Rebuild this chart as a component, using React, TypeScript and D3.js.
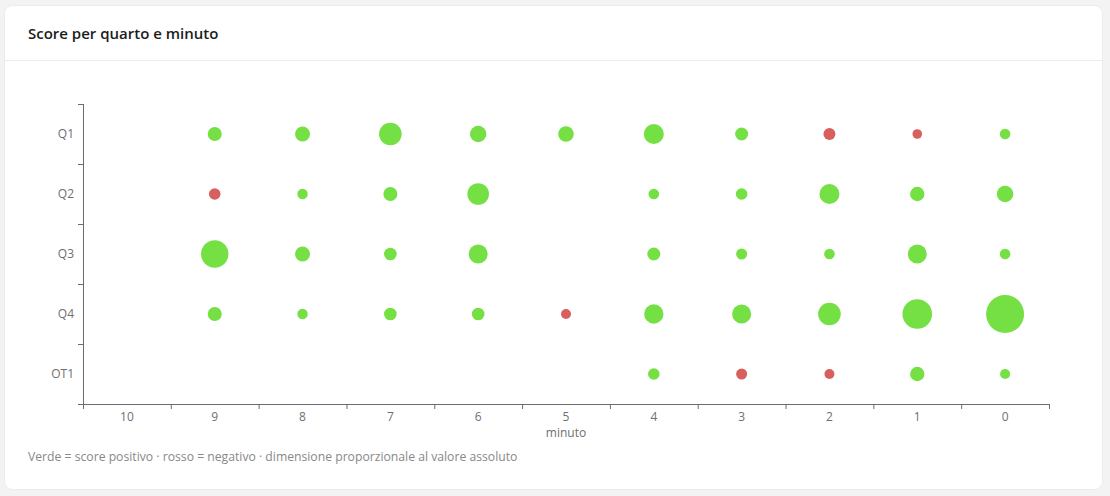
import React from "react";
import * as d3 from "d3";

// minuti rimanenti nel quarto (da 10 a 0)
const MINUTES = [10, 9, 8, 7, 6, 5, 4, 3, 2, 1, 0];
const QUARTERS = ["Q1", "Q2", "Q3", "Q4", "OT1"];

// score per minuto, stesso ordine di MINUTES (null = nessun dato)
const Q1_SCORES = [null, 3, 3.5, 7.3, 4.2, 3.8, 6, 2.5, -2, -0.8, 1.3];
const Q2_SCORES = [null, -1.8, 1.2, 3, 6.8, null, 1.3, 1.8, 6, 3.2, 4.3];
const Q3_SCORES = [null, 9.7, 3.5, 2.3, 5.5, null, 2.5, 1.5, 1.3, 5.5, 1.3];
const Q4_SCORES = [null, 3, 1.2, 2.3, 2.3, -1, 5.7, 5.5, 7.3, 10.8, 15];
const OT1_SCORES = [null, null, null, null, null, null, 1.8, -1.5, -1, 3.2, 1];

const SCORES: Record<string, (number | null)[]> = {
  Q1: Q1_SCORES,
  Q2: Q2_SCORES,
  Q3: Q3_SCORES,
  Q4: Q4_SCORES,
  OT1: OT1_SCORES,
};

const W = 1110;
const H = 496;
const FONT = "'Open Sans', 'Noto Sans', sans-serif";
const AXIS_COLOR = "#6b6b72";
const LABEL_COLOR = "#6f6f6f";

const App: React.FC = () => {
  const margin = { top: 104, right: 61, bottom: 92, left: 83 };

  const x = d3
    .scaleBand<number>()
    .domain(MINUTES)
    .range([margin.left, W - margin.right]);

  const y = d3
    .scaleBand<string>()
    .domain(QUARTERS)
    .range([margin.top, H - margin.bottom]);

  const maxAbs = d3.max(
    QUARTERS.flatMap((q) => SCORES[q].map((v) => (v == null ? 0 : Math.abs(v))))
  ) as number;
  const r = d3.scaleLinear().domain([0, maxAbs]).range([4, 19]);

  const xTicks = [...MINUTES.map((m) => x(m) as number), x.range()[1]];
  const yTicks = [...QUARTERS.map((q) => y(q) as number), y.range()[1]];
  const x0 = x.range()[0];
  const x1 = x.range()[1];
  const yBottom = y.range()[1];

  const points = QUARTERS.flatMap((q) =>
    SCORES[q]
      .map((v, i) => ({ q, m: MINUTES[i], v }))
      .filter((d) => d.v != null)
  ) as { q: string; m: number; v: number }[];

  return (
    <div
      style={{
        position: "fixed",
        inset: 0,
        background: "#f3f3f3",
      }}
    >
      <svg width={W} height={H} style={{ display: "block" }} fontFamily={FONT}>
        {/* card */}
        <rect
          x={4.5}
          y={5.5}
          width={1098}
          height={484}
          rx={8}
          fill="#ffffff"
          stroke="#ebebeb"
        />
        <line x1={5} x2={1102} y1={60.5} y2={60.5} stroke="#ececec" />
        <text x={28} y={39} fontSize={15} fontWeight={600} fill="#1c1c1c">
          Score per quarto e minuto
        </text>

        {/* asse y */}
        <line
          x1={x0 + 0.5}
          x2={x0 + 0.5}
          y1={yTicks[0]}
          y2={yBottom}
          stroke={AXIS_COLOR}
        />
        {yTicks.map((t, i) => (
          <line
            key={"yt" + i}
            x1={x0 - 5}
            x2={x0}
            y1={t + 0.5}
            y2={t + 0.5}
            stroke={AXIS_COLOR}
          />
        ))}
        {QUARTERS.map((q) => (
          <text
            key={q}
            x={x0 - 9}
            y={(y(q) as number) + y.bandwidth() / 2}
            dy="0.35em"
            textAnchor="end"
            fontSize={12}
            fill={LABEL_COLOR}
          >
            {q}
          </text>
        ))}

        {/* asse x */}
        <line
          x1={x0}
          x2={x1}
          y1={yBottom + 0.5}
          y2={yBottom + 0.5}
          stroke={AXIS_COLOR}
        />
        {xTicks.map((t, i) => (
          <line
            key={"xt" + i}
            x1={t + 0.5}
            x2={t + 0.5}
            y1={yBottom}
            y2={yBottom + 5}
            stroke={AXIS_COLOR}
          />
        ))}
        {MINUTES.map((m) => (
          <text
            key={"m" + m}
            x={(x(m) as number) + x.bandwidth() / 2}
            y={yBottom + 17}
            textAnchor="middle"
            fontSize={12}
            fill={LABEL_COLOR}
          >
            {m}
          </text>
        ))}
        <text
          x={(x0 + x1) / 2}
          y={yBottom + 33}
          textAnchor="middle"
          fontSize={12}
          fill={LABEL_COLOR}
        >
          minuto
        </text>

        {/* bolle */}
        {points.map((d) => (
          <circle
            key={d.q + d.m}
            cx={(x(d.m) as number) + x.bandwidth() / 2}
            cy={(y(d.q) as number) + y.bandwidth() / 2}
            r={r(Math.abs(d.v))}
            fill={d.v >= 0 ? "#74e044" : "#d95e5e"}
          />
        ))}

        <text x={28} y={461} fontSize={12.2} fill="#888888">
          Verde = score positivo · rosso = negativo · dimensione proporzionale al valore assoluto
        </text>
      </svg>
    </div>
  );
};

export default App;
